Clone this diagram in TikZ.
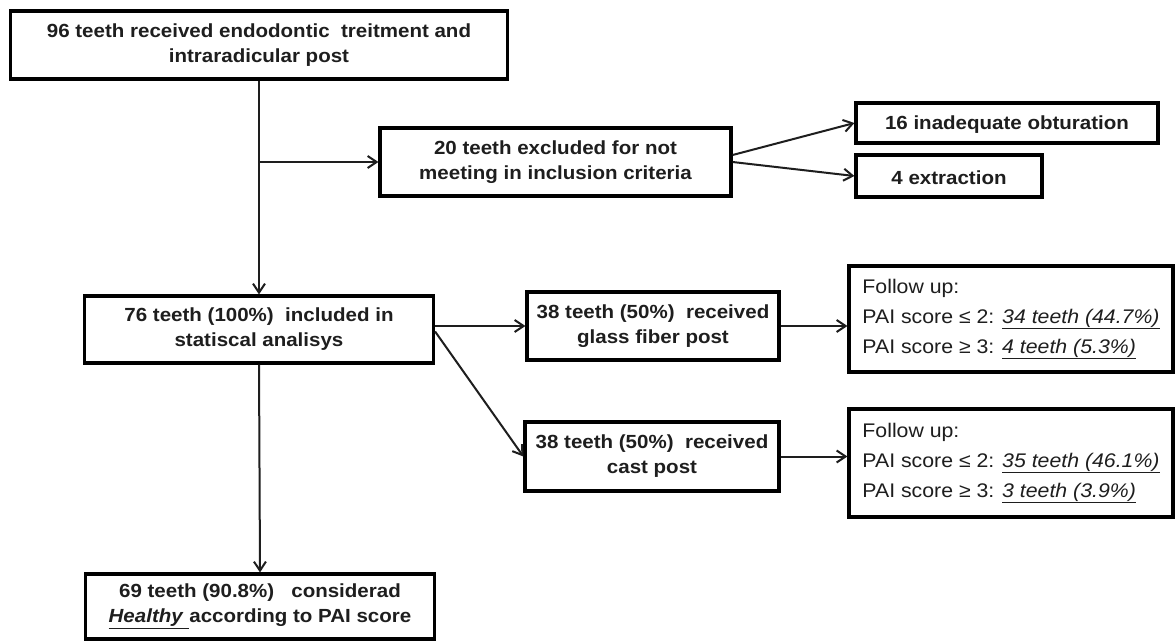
\documentclass[tikz,border=0pt]{standalone}
\usepackage{fontspec}
\setmainfont{Liberation Sans}[FakeStretch=1.08]
\usetikzlibrary{arrows.meta,calc}
\definecolor{ink}{HTML}{1E1E1E}
\begin{document}
\begin{tikzpicture}[x=1pt,y=-1pt,
  box/.style={draw=black,line width=3.2pt,fill=white,inner sep=0pt,align=center,
    text=ink,font=\bfseries\fontsize{19}{25}\selectfont,
    execute at begin node={\rule{0pt}{17.5pt}}},
  fubox/.style={box,align=left,font=\fontsize{19.7}{30}\selectfont},
  conn/.style={draw=ink,line width=2pt,-{Straight Barb[length=9pt,width=12pt]}},
  plain/.style={draw=ink,line width=2pt}]
\useasboundingbox[fill=white] (0,0) rectangle (1175,641);

\node[box,minimum width=497pt,minimum height=68pt] (top) at (259,45)
  {96 teeth received endodontic\ \ treitment and\\intraradicular post};
\node[box,minimum width=351pt,minimum height=68pt] (excl) at (555.5,162)
  {20 teeth excluded for not\\meeting in inclusion criteria};
\node[box,minimum width=302pt,minimum height=40pt] (obt) at (1007,123)
  {16 inadequate obturation};
\node[box,minimum width=186pt,minimum height=42pt] (ext) at (949,176)
  {4 extraction};
\node[box,minimum width=349pt,minimum height=67pt] (inc) at (259,329.5)
  {76 teeth (100\%)\ \ included in\\statiscal analisys};
\node[box,minimum width=252pt,minimum height=68pt] (glass) at (653,326)
  {38 teeth (50\%)\ \ received\\glass fiber post};
\node[box,minimum width=254pt,minimum height=69pt] (cast) at (652,456.5)
  {38 teeth (50\%)\ \ received\\cast post};
\node[fubox,minimum width=324pt,minimum height=106pt] (fu1) at (1011,319)
  {Follow up:\\PAI score ≤ 2: \underline{\textit{34 teeth (44.7\%)}}\\PAI score ≥ 3: \underline{\textit{4 teeth (5.3\%)}}};
\node[fubox,minimum width=324pt,minimum height=108pt] (fu2) at (1011,463)
  {Follow up:\\PAI score ≤ 2: \underline{\textit{35 teeth (46.1\%)}}\\PAI score ≥ 3: \underline{\textit{3 teeth (3.9\%)}}};
\node[box,minimum width=349pt,minimum height=65pt] (healthy) at (260,606.5)
  {69 teeth (90.8\%)\ \ \ considerad\\\underline{\textit{Healthy}\ }according to PAI score};

\coordinate (br) at (top.south |- excl.west);
\draw[conn] (top.south) -- (inc.north);
\draw[conn] (br) -- (excl.west);
\draw[conn] ([yshift=7pt]excl.east) -- (obt.west);
\draw[conn] (excl.east) -- (ext.west);
\draw[conn] (inc.east |- glass.west) -- (glass.west);
\draw[conn] ([yshift=-2pt]inc.east) -- (cast.west);
\draw[conn] (glass.east) -- (glass.east -| fu1.west);
\draw[conn] (cast.east) -- (cast.east -| fu2.west);
\draw[conn] (inc.south) -- (healthy.north);
\end{tikzpicture}
\end{document}
